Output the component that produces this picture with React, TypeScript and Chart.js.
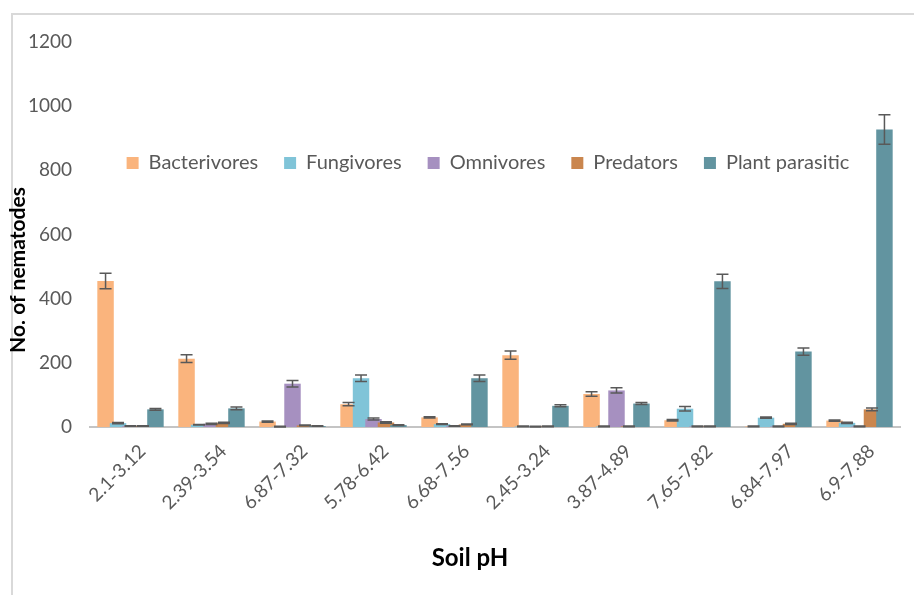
import React, { useEffect, useRef } from 'react';
import { Chart, registerables } from 'chart.js';

Chart.register(...registerables);

const categories = ['2.1-3.12', '2.39-3.54', '6.87-7.32', '5.78-6.42', '6.68-7.56', '2.45-3.24', '3.87-4.89', '7.65-7.82', '6.84-7.97', '6.9-7.88'];

const seriesNames = ['Bacterivores', 'Fungivores', 'Omnivores', 'Predators', 'Plant parasitic'];

const bacterivores = [455, 213, 17, 71, 30, 224, 103, 21, 2, 20];
const bacterivoresErr = [24, 12, 2, 5, 2, 13, 7, 2, 1, 2];
const fungivores = [12, 7, 1, 152, 9, 2, 2, 57, 29, 13];
const fungivoresErr = [2, 1, 1, 10, 1, 1, 1, 7, 2, 2];
const omnivores = [3, 10, 135, 25, 3, 1, 114, 2, 2, 2];
const omnivoresErr = [1, 2, 10, 3, 1, 1, 8, 1, 1, 1];
const predators = [3, 13, 5, 14, 8, 2, 2, 2, 10, 55];
const predatorsErr = [1, 2, 1, 2, 1, 1, 1, 1, 2, 4];
const plantParasitic = [55, 58, 3, 6, 152, 66, 73, 454, 235, 927];
const plantParasiticErr = [3, 4, 1, 1, 10, 3, 3, 22, 11, 46];

const yTicksMin = 0;
const yTicksMax = 1200;
const yTickStep = 200;

const seriesValues = [bacterivores, fungivores, omnivores, predators, plantParasitic];
const seriesErrors = [bacterivoresErr, fungivoresErr, omnivoresErr, predatorsErr, plantParasiticErr];
const seriesColors = ['#FAB47D', '#80C4D8', '#A690C0', '#CA864E', '#6294A0'];

const FONT = 'Lato, "Open Sans", sans-serif';

const CANVAS_W = 914;
const CANVAS_H = 595;
const PLOT_BOTTOM = 427;
const PAD_BOTTOM = 22;

// Draw series in their natural order (later series on top, as in Excel) and add error bars.
const orderedBarsWithErrors = {
  id: 'orderedBarsWithErrors',
  beforeDatasetsDraw(chart: any) {
    const metas = chart.getSortedVisibleDatasetMetas();
    for (const meta of metas) {
      if (typeof chart._drawDataset === 'function') chart._drawDataset(meta);
      else meta.controller.draw();
    }
    const y = chart.scales.y;
    const ctx = chart.ctx;
    ctx.save();
    ctx.strokeStyle = '#595959';
    ctx.lineWidth = 1.5;
    for (const meta of metas) {
      const errs = seriesErrors[meta.index];
      const vals = chart.data.datasets[meta.index].data;
      meta.data.forEach((bar: any, j: number) => {
        const v = vals[j];
        const e = errs[j];
        const top = y.getPixelForValue(v + e);
        const bot = y.getPixelForValue(Math.max(v - e, 0));
        const x = bar.x;
        const hw = 6;
        ctx.beginPath();
        ctx.moveTo(x, top);
        ctx.lineTo(x, bot);
        ctx.moveTo(x - hw, top);
        ctx.lineTo(x + hw, top);
        ctx.moveTo(x - hw, bot);
        ctx.lineTo(x + hw, bot);
        ctx.stroke();
      });
    }
    ctx.restore();
    return false;
  },
};

// Float the legend inside the plot area, like the reference.
const LEGEND_CENTER_X = 488;
const LEGEND_TEXT_Y = 163;
const LEGEND_PADDING = 26;
const LEGEND_FONT_SIZE = 20;

// Title centres as in the reference (Excel centres them on the whole chart, not the plot).
const X_TITLE_CENTER = 470;
const Y_TITLE_CENTER = 270;

function shiftTitle(scale: any, adjust: (s: any) => void) {
  if (!scale || scale.__titleShifted) return;
  const orig = scale.drawTitle.bind(scale);
  scale.drawTitle = function () {
    const saved = { left: this.left, right: this.right, top: this.top, bottom: this.bottom };
    adjust(this);
    orig();
    Object.assign(this, saved);
  };
  scale.__titleShifted = true;
}

const layoutTweaks = {
  id: 'layoutTweaks',
  afterLayout(chart: any) {
    const lg = chart.legend;
    if (lg) {
      lg.left = LEGEND_CENTER_X - 445;
      lg.right = LEGEND_CENTER_X + 445;
      lg.width = 890;
      lg.top = LEGEND_TEXT_Y - LEGEND_PADDING - LEGEND_FONT_SIZE / 2;
      lg.bottom = lg.top + 80;
      lg.height = 80;
    }
    shiftTitle(chart.scales.x, (s) => {
      s.right = 2 * X_TITLE_CENTER - s.left;
    });
    shiftTitle(chart.scales.y, (s) => {
      s.bottom = 2 * Y_TITLE_CENTER - s.top;
    });
  },
};

export default function App() {
  const ref = useRef<HTMLCanvasElement | null>(null);

  useEffect(() => {
    if (!ref.current) return;
    Chart.defaults.font.family = FONT;
    const chart = new Chart(ref.current, {
      type: 'bar',
      data: {
        labels: categories,
        datasets: seriesNames.map((name, i) => ({
          label: name,
          data: seriesValues[i],
          backgroundColor: seriesColors[i],
          borderWidth: 0,
          categoryPercentage: 0.77,
          barPercentage: 1.32,
        })),
      },
      options: {
        responsive: false,
        animation: false,
        layout: { padding: { top: 42, right: 14, bottom: PAD_BOTTOM, left: 0 } },
        plugins: {
          tooltip: { enabled: false },
          legend: {
            display: true,
            position: 'top',
            maxHeight: 0.01,
            labels: {
              boxWidth: 12,
              boxHeight: 12,
              padding: LEGEND_PADDING,
              color: '#595959',
              font: { family: FONT, size: LEGEND_FONT_SIZE },
            },
          },
        },
        scales: {
          x: {
            grid: { display: false, drawTicks: false },
            border: { display: true, color: '#c4c4c4', width: 2 },
            ticks: {
              color: '#595959',
              font: { family: FONT, size: 19 },
              minRotation: 45,
              maxRotation: 45,
              autoSkip: false,
              padding: 13,
              labelOffset: 12,
            },
            title: {
              display: true,
              text: 'Soil pH',
              color: '#000000',
              font: { family: FONT, size: 24, weight: 'bold' },
              padding: 0,
            },
            afterFit: (s: any) => {
              s.height = CANVAS_H - PAD_BOTTOM - PLOT_BOTTOM;
            },
          },
          y: {
            min: yTicksMin,
            max: yTicksMax,
            grid: { display: false, drawTicks: false },
            border: { display: false },
            ticks: {
              stepSize: yTickStep,
              color: '#595959',
              font: { family: FONT, size: 19 },
              padding: 18,
              callback: (v: any) => String(v),
            },
            title: {
              display: true,
              text: 'No. of nematodes',
              color: '#000000',
              font: { family: FONT, size: 21, weight: 'bold' },
              padding: { top: 6, bottom: 0 },
            },
            afterFit: (s: any) => {
              s.width = 90;
            },
          },
        },
      },
      plugins: [orderedBarsWithErrors, layoutTweaks],
    } as any);
    return () => chart.destroy();
  }, []);

  return (
    <div style={{ position: 'fixed', left: 0, top: 0, width: CANVAS_W, height: CANVAS_H, overflow: 'hidden', background: '#ffffff' }}>
      <div
        style={{
          position: 'absolute',
          left: 11,
          top: 13,
          width: 903,
          height: 582,
          borderTop: '2px solid #d9d9d9',
          borderLeft: '2px solid #d9d9d9',
          boxSizing: 'border-box',
        }}
      />
      <canvas
        ref={ref}
        width={CANVAS_W}
        height={CANVAS_H}
        style={{ position: 'absolute', left: 0, top: 0, width: CANVAS_W, height: CANVAS_H }}
      />
    </div>
  );
}
